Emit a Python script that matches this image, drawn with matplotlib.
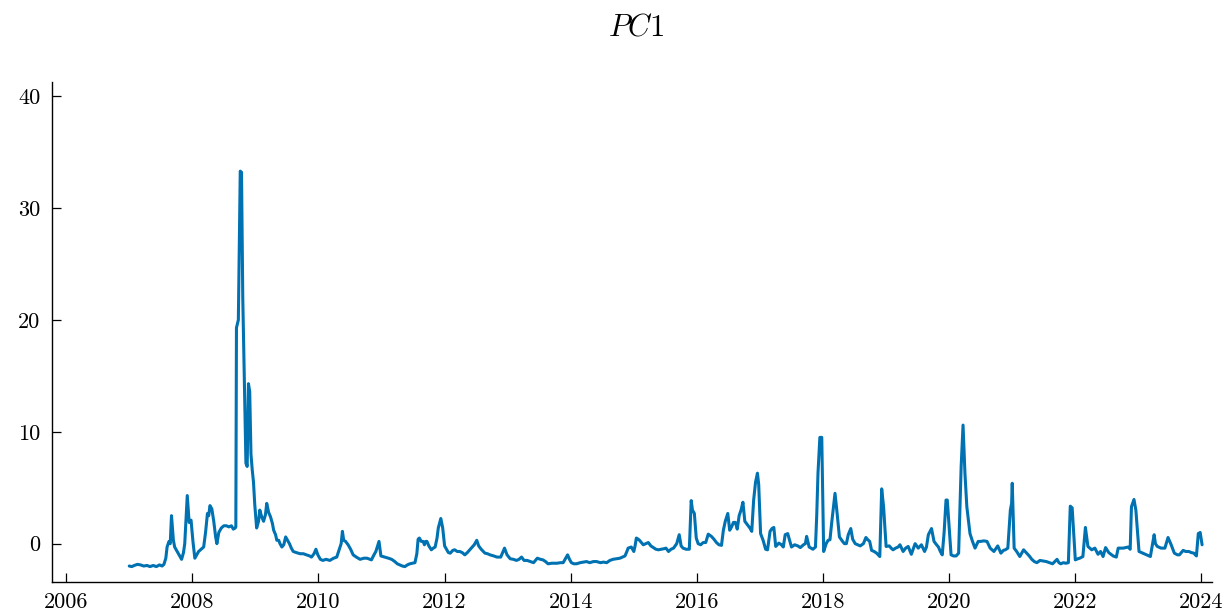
import matplotlib
matplotlib.use("Agg")
import matplotlib.pyplot as plt
import numpy as np

plt.rcParams['font.family'] = ['cmr10', 'DejaVu Serif']
plt.rcParams['mathtext.fontset'] = 'cm'
plt.rcParams['axes.formatter.use_mathtext'] = True

LINE_COLOR = "#0072B2"

# valores (fecha en anos decimales, valor PC1)
dates = [
    2007.00, 2007.04, 2007.08, 2007.13, 2007.18, 2007.23, 2007.28, 2007.33, 2007.38, 2007.43,
    2007.48, 2007.52, 2007.55, 2007.58, 2007.60, 2007.63, 2007.65, 2007.67, 2007.70, 2007.72,
    2007.75, 2007.78, 2007.83, 2007.86, 2007.88, 2007.92, 2007.95, 2007.98, 2008.01, 2008.04,
    2008.07, 2008.10, 2008.14, 2008.18, 2008.21, 2008.24, 2008.26, 2008.28, 2008.31, 2008.34,
    2008.37, 2008.39, 2008.42, 2008.46, 2008.50, 2008.54, 2008.58, 2008.62, 2008.65, 2008.68,
    2008.69, 2008.70, 2008.73, 2008.76, 2008.78, 2008.80, 2008.82, 2008.85, 2008.87, 2008.89,
    2008.91, 2008.93, 2008.95, 2008.97, 2008.99, 2009.02, 2009.05, 2009.07, 2009.10, 2009.13,
    2009.16, 2009.18, 2009.21, 2009.24, 2009.27, 2009.29, 2009.32, 2009.34, 2009.37, 2009.39,
    2009.42, 2009.45, 2009.48, 2009.51, 2009.54, 2009.57, 2009.60, 2009.65, 2009.71, 2009.76,
    2009.81, 2009.86, 2009.89, 2009.93, 2009.96, 2009.99, 2010.03, 2010.07, 2010.12, 2010.18,
    2010.24, 2010.29, 2010.33, 2010.36, 2010.38, 2010.40, 2010.43, 2010.47, 2010.51, 2010.55,
    2010.60, 2010.66, 2010.72, 2010.77, 2010.84, 2010.88, 2010.91, 2010.96, 2010.99, 2011.05,
    2011.11, 2011.16, 2011.21, 2011.25, 2011.29, 2011.33, 2011.37, 2011.41, 2011.45, 2011.49,
    2011.53, 2011.56, 2011.58, 2011.60, 2011.63, 2011.66, 2011.68, 2011.70, 2011.72, 2011.75,
    2011.79, 2011.82, 2011.85, 2011.88, 2011.90, 2011.94, 2011.97, 2012.00, 2012.03, 2012.06,
    2012.09, 2012.13, 2012.16, 2012.20, 2012.24, 2012.28, 2012.32, 2012.36, 2012.40, 2012.44,
    2012.47, 2012.51, 2012.54, 2012.58, 2012.64, 2012.68, 2012.72, 2012.78, 2012.83, 2012.89,
    2012.92, 2012.95, 2012.99, 2013.04, 2013.09, 2013.14, 2013.18, 2013.22, 2013.26, 2013.31,
    2013.36, 2013.41, 2013.47, 2013.52, 2013.56, 2013.60, 2013.64, 2013.70, 2013.78, 2013.84,
    2013.88, 2013.92, 2013.95, 2013.98, 2014.01, 2014.05, 2014.09, 2014.15, 2014.20, 2014.25,
    2014.30, 2014.36, 2014.41, 2014.47, 2014.52, 2014.57, 2014.62, 2014.67, 2014.72, 2014.78,
    2014.82, 2014.86, 2014.89, 2014.91, 2014.96, 2015.00, 2015.02, 2015.04, 2015.07, 2015.09,
    2015.12, 2015.15, 2015.19, 2015.23, 2015.27, 2015.31, 2015.35, 2015.39, 2015.44, 2015.48,
    2015.51, 2015.55, 2015.59, 2015.63, 2015.68, 2015.72, 2015.75, 2015.78, 2015.83, 2015.88,
    2015.91, 2015.93, 2015.96, 2015.99, 2016.02, 2016.06, 2016.10, 2016.14, 2016.18, 2016.23,
    2016.27, 2016.31, 2016.35, 2016.39, 2016.42, 2016.45, 2016.49, 2016.52, 2016.55, 2016.58,
    2016.61, 2016.64, 2016.67, 2016.70, 2016.73, 2016.76, 2016.80, 2016.84, 2016.87, 2016.90,
    2016.93, 2016.96, 2016.98, 2017.01, 2017.05, 2017.09, 2017.12, 2017.16, 2017.19, 2017.22,
    2017.25, 2017.30, 2017.34, 2017.37, 2017.40, 2017.44, 2017.50, 2017.55, 2017.60, 2017.64,
    2017.69, 2017.72, 2017.74, 2017.78, 2017.84, 2017.88, 2017.90, 2017.92, 2017.95, 2017.98,
    2018.01, 2018.05, 2018.08, 2018.11, 2018.14, 2018.16, 2018.19, 2018.22, 2018.26, 2018.31,
    2018.34, 2018.37, 2018.40, 2018.44, 2018.47, 2018.51, 2018.55, 2018.59, 2018.64, 2018.68,
    2018.71, 2018.74, 2018.77, 2018.81, 2018.85, 2018.90, 2018.93, 2018.96, 2019.00, 2019.05,
    2019.08, 2019.11, 2019.15, 2019.19, 2019.22, 2019.27, 2019.31, 2019.35, 2019.40, 2019.46,
    2019.51, 2019.56, 2019.61, 2019.64, 2019.67, 2019.72, 2019.76, 2019.80, 2019.83, 2019.86,
    2019.89, 2019.92, 2019.95, 2019.97, 2020.00, 2020.03, 2020.07, 2020.11, 2020.15, 2020.19,
    2020.22, 2020.25, 2020.28, 2020.33, 2020.37, 2020.41, 2020.46, 2020.50, 2020.55, 2020.60,
    2020.65, 2020.71, 2020.77, 2020.82, 2020.86, 2020.89, 2020.93, 2020.97, 2020.99, 2021.00,
    2021.03, 2021.07, 2021.12, 2021.18, 2021.23, 2021.27, 2021.31, 2021.35, 2021.39, 2021.44,
    2021.49, 2021.54, 2021.59, 2021.64, 2021.71, 2021.74, 2021.77, 2021.81, 2021.85, 2021.89,
    2021.92, 2021.95, 2022.00, 2022.04, 2022.07, 2022.12, 2022.16, 2022.20, 2022.26, 2022.31,
    2022.36, 2022.40, 2022.44, 2022.48, 2022.53, 2022.60, 2022.65, 2022.68, 2022.72, 2022.76,
    2022.80, 2022.84, 2022.87, 2022.89, 2022.93, 2022.96, 2023.01, 2023.07, 2023.13, 2023.19,
    2023.25, 2023.27, 2023.30, 2023.36, 2023.42, 2023.47, 2023.52, 2023.57, 2023.62, 2023.65,
    2023.71, 2023.75, 2023.80, 2023.84, 2023.88, 2023.92, 2023.95, 2023.98, 2024.01,
]

pc1 = [
    -2.0, -2.05, -1.95, -1.85, -1.9, -2.0, -1.95, -2.05, -1.95, -2.05,
    -1.9, -2.0, -1.85, -1.3, -0.3, 0.2, 0.0, 2.5, 0.3, -0.3,
    -0.6, -0.9, -1.4, -0.8, 0.0, 4.3, 1.9, 2.1, 0.2, -1.3,
    -1.0, -0.7, -0.5, -0.3, 1.0, 2.7, 2.5, 3.4, 3.1, 2.0,
    0.6, 0.0, 1.0, 1.4, 1.6, 1.6, 1.5, 1.6, 1.3, 1.4,
    1.5, 19.3, 20.0, 33.3, 33.2, 22.0, 16.0, 7.2, 6.9, 14.3,
    13.6, 8.0, 6.6, 5.5, 3.5, 1.4, 2.0, 3.0, 2.4, 2.0,
    2.6, 3.6, 2.8, 2.4, 1.8, 1.2, 0.8, 0.3, 0.3, 0.0,
    -0.3, -0.1, 0.6, 0.3, 0.0, -0.4, -0.7, -0.8, -0.9, -0.9,
    -1.0, -1.1, -1.2, -0.9, -0.5, -1.0, -1.4, -1.5, -1.4, -1.5,
    -1.3, -1.2, -0.5, 0.0, 1.1, 0.3, 0.2, -0.1, -0.5, -1.0,
    -1.2, -1.4, -1.3, -1.3, -1.45, -1.0, -0.7, 0.2, -1.1, -1.2,
    -1.3, -1.4, -1.6, -1.8, -1.9, -2.0, -2.05, -1.9, -1.8, -1.75,
    -1.7, -0.9, 0.4, 0.5, 0.2, 0.2, -0.1, 0.2, 0.2, -0.2,
    -0.55, -0.4, -0.3, 0.5, 1.4, 2.25, 1.4, -0.2, -0.5, -0.8,
    -0.85, -0.6, -0.55, -0.7, -0.7, -0.8, -1.0, -0.8, -0.55, -0.3,
    -0.1, 0.3, -0.2, -0.5, -0.85, -0.9, -1.0, -1.1, -1.2, -1.2,
    -0.8, -0.4, -1.0, -1.35, -1.4, -1.5, -1.4, -1.2, -1.5, -1.5,
    -1.6, -1.7, -1.3, -1.4, -1.45, -1.6, -1.8, -1.75, -1.75, -1.7,
    -1.7, -1.3, -1.0, -1.4, -1.7, -1.8, -1.8, -1.7, -1.65, -1.6,
    -1.7, -1.6, -1.6, -1.7, -1.65, -1.7, -1.5, -1.4, -1.35, -1.3,
    -1.2, -1.1, -0.7, -0.4, -0.3, -0.7, -0.2, 0.5, 0.4, 0.3,
    0.1, -0.1, 0.0, 0.1, -0.2, -0.35, -0.5, -0.55, -0.5, -0.45,
    -0.4, -0.7, -0.5, -0.4, 0.0, 0.8, -0.2, -0.4, -0.5, -0.5,
    3.85, 3.0, 2.7, 0.5, 0.0, -0.1, 0.1, 0.1, 0.85, 0.65,
    0.4, 0.1, -0.1, -0.15, 1.2, 2.0, 2.7, 1.2, 1.5, 1.9,
    1.9, 1.3, 2.5, 3.0, 3.7, 2.0, 1.7, 1.4, 1.1, 3.9,
    5.5, 6.3, 5.3, 0.9, 0.3, -0.5, -0.55, 1.1, 1.35, 1.45,
    -0.25, 0.05, -0.1, -0.3, 0.8, 0.9, -0.3, -0.1, -0.2, -0.35,
    -0.1, 0.0, 0.65, -0.3, -0.5, -0.3, 2.5, 6.3, 9.5, 9.5,
    -0.7, 0.0, 0.3, 0.35, 2.0, 3.0, 4.5, 2.9, 0.6, 0.2,
    0.0, 0.0, 0.8, 1.35, 0.4, 0.0, -0.1, -0.2, 0.0, 0.55,
    0.35, 0.2, -0.6, -0.7, -0.85, -1.15, 4.9, 3.3, -0.25, -0.2,
    -0.4, -0.55, -0.4, -0.3, -0.1, -0.7, -0.4, -0.25, -0.95, 0.0,
    -0.4, -0.1, -0.7, -0.3, 0.8, 1.35, 0.2, -0.1, -0.3, -0.7,
    -1.0, 1.0, 3.9, 3.9, 1.5, -1.0, -1.1, -1.1, -0.85, 6.9,
    10.6, 6.3, 3.3, 0.9, 0.2, -0.4, 0.2, 0.2, 0.25, 0.2,
    -0.4, -0.7, -0.2, -0.85, -0.6, -0.55, -0.4, 3.0, 3.6, 5.4,
    -0.4, -0.7, -1.15, -0.55, -0.85, -1.1, -1.4, -1.6, -1.7, -1.5,
    -1.55, -1.6, -1.7, -1.8, -1.4, -1.7, -1.8, -1.7, -1.75, -1.7,
    3.35, 3.2, -1.45, -1.35, -1.3, -1.15, 1.45, -0.25, -0.55, -0.4,
    -0.95, -0.7, -1.15, -0.35, -0.8, -1.1, -1.2, -0.4, -0.4, -0.4,
    -0.35, -0.3, -0.5, 3.3, 3.95, 3.0, -0.7, -0.85, -1.0, -1.15,
    0.8, 0.0, -0.25, -0.4, -0.4, 0.55, -0.1, -0.85, -1.0, -1.0,
    -0.6, -0.7, -0.7, -0.8, -0.85, -1.1, 0.9, 1.0, -0.1,
]

xticks = [2006, 2008, 2010, 2012, 2014, 2016, 2018, 2020, 2022, 2024]
yticks = [0, 10, 20, 30, 40]

fig = plt.figure(figsize=(12.3, 6.16), dpi=100)
ax = fig.add_axes([0.042, 0.0557, 0.943, 0.811])

ax.plot(np.array(dates), np.array(pc1), color=LINE_COLOR, linewidth=2.2,
        solid_joinstyle='round', solid_capstyle='round')

ax.set_xlim(2005.77, 2024.16)
ax.set_ylim(-3.4, 41.26)
ax.set_xticks(xticks)
ax.set_xticklabels([str(t) for t in xticks])
ax.set_yticks(yticks)
ax.set_yticklabels([str(t) for t in yticks])

ax.spines['top'].set_visible(False)
ax.spines['right'].set_visible(False)
for s in ['left', 'bottom']:
    ax.spines[s].set_linewidth(1.0)
ax.tick_params(direction='in', length=6.5, width=0.9, labelsize=16, pad=8)

fig.text(0.517, 0.955, r'$PC1$', ha='center', va='center', fontsize=22)

fig.savefig("out.png", dpi=100)
